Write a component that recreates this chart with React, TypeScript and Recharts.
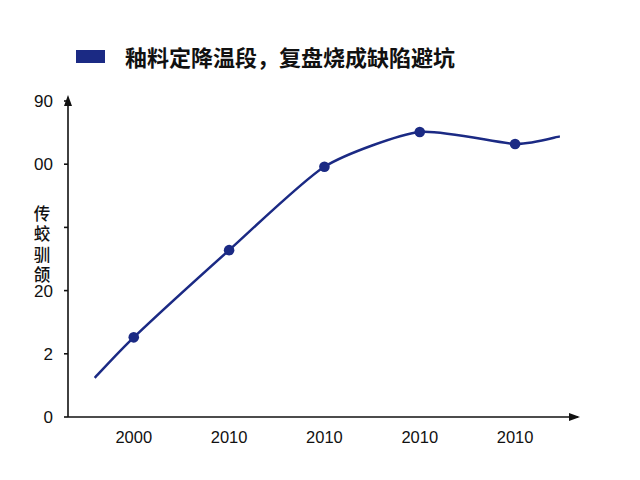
import React from "react";
import {
  LineChart,
  Line,
  XAxis,
  YAxis,
  ReferenceDot,
} from "recharts";

const seriesName = "釉料定降温段，复盘烧成缺陷避坑";
const yAxisTitle = "传蛟驯颌";

// x positions: real categories at 0..4, plus the line's lead-in / lead-out
const xPos = [-0.41, 0, 1, 2, 3, 4, 4.47];
const values = [0.62, 1.26, 2.64, 3.96, 4.51, 4.32, 4.44];
const marked = [false, true, true, true, true, true, false];

const xTicks = [0, 1, 2, 3, 4];
const xTickLabels = ["2000", "2010", "2010", "2010", "2010"];
const yTicks = [0, 1, 2, 3, 4, 5];
const yTickLabels = ["0", "2", "20", "", "00", "90"];

const X_MIN = -0.69;
const X_MAX = 4.66;
const Y_MAX = 5;

const NAVY = "#1b2a84";
const INK = "#111";

const data = xPos.map((x, i) => ({ x, value: values[i], mark: marked[i] }));

// cardinal spline, so the peak keeps a small corner like the source
function cardinal(tension: number) {
  return (context: any) => {
    let pts: [number, number][] = [];
    return {
      areaStart() {},
      areaEnd() {},
      lineStart() {
        pts = [];
      },
      point(x: number, y: number) {
        pts.push([+x, +y]);
      },
      lineEnd() {
        const k = (1 - tension) / 6;
        pts.forEach((p, i) => {
          if (i === 0) {
            context.moveTo(p[0], p[1]);
            return;
          }
          const p0 = pts[Math.max(0, i - 2)];
          const p1 = pts[i - 1];
          const p3 = pts[Math.min(pts.length - 1, i + 1)];
          context.bezierCurveTo(
            p1[0] + k * (p[0] - p0[0]),
            p1[1] + k * (p[1] - p0[1]),
            p[0] - k * (p3[0] - p1[0]),
            p[1] - k * (p3[1] - p1[1]),
            p[0],
            p[1]
          );
        });
      },
    };
  };
}

function Dot(props: any) {
  const { cx, cy, payload, index } = props;
  if (!payload.mark) return <g key={index} />;
  return <circle key={index} cx={cx} cy={cy} r={5.3} fill={NAVY} />;
}

function YTick(props: any) {
  const { x, y, payload } = props;
  return (
    <text
      x={x}
      y={y}
      dy={6}
      textAnchor="end"
      fontSize={17}
      fill={INK}
      fontFamily="Liberation Sans, Arial, sans-serif"
    >
      {yTickLabels[yTicks.indexOf(payload.value)]}
    </text>
  );
}

function YTitle(props: any) {
  const { viewBox } = props;
  const cx = viewBox.x + 34;
  const top = viewBox.y + viewBox.height / 2 - 54;
  return (
    <text
      x={cx}
      y={top}
      fontSize={16.5}
      fontWeight={500}
      fill={INK}
      fontFamily="Noto Sans CJK SC, sans-serif"
      style={{ writingMode: "vertical-rl", letterSpacing: 4 }}
    >
      {yAxisTitle}
    </text>
  );
}

function UpArrow(props: any) {
  const { cx, cy } = props;
  return <path d={`M${cx},${cy - 6} L${cx - 4},${cy + 5} L${cx + 4},${cy + 5} Z`} fill={INK} />;
}

function RightArrow(props: any) {
  const { cx, cy } = props;
  return <path d={`M${cx + 2},${cy} L${cx - 9},${cy - 4} L${cx - 9},${cy + 4} Z`} fill={INK} />;
}

export default function App() {
  return (
    <div style={{ position: "absolute", left: 0, top: 0, width: 640, height: 480, background: "#fff" }}>
      <div
        style={{
          position: "absolute",
          left: 76,
          top: 40,
          display: "flex",
          alignItems: "center",
          height: 32,
          fontFamily: "Noto Sans CJK SC, sans-serif",
          fontWeight: 700,
          fontSize: 22,
          color: INK,
        }}
      >
        <span style={{ display: "inline-block", width: 29, height: 13, background: NAVY, marginRight: 20 }} />
        <span>{seriesName}</span>
      </div>
      <LineChart
        width={640}
        height={480}
        data={data}
        margin={{ top: 101, right: 62, bottom: 23, left: 8 }}
      >
        <XAxis
          type="number"
          dataKey="x"
          domain={[X_MIN, X_MAX]}
          ticks={xTicks}
          tickFormatter={(v: number) => xTickLabels[xTicks.indexOf(v)]}
          height={40}
          tickSize={0}
          tickMargin={14}
          stroke={INK}
          strokeWidth={1.6}
          tick={{ fill: INK, fontSize: 16.5, fontFamily: "Liberation Sans, Arial, sans-serif" }}
          allowDataOverflow
        />
        <YAxis
          type="number"
          domain={[0, Y_MAX]}
          ticks={yTicks}
          width={60}
          tickSize={4}
          tickMargin={11}
          stroke={INK}
          strokeWidth={1.6}
          tick={<YTick />}
          label={<YTitle />}
        />
        <ReferenceDot x={X_MIN} y={Y_MAX} ifOverflow="visible" shape={<UpArrow />} />
        <ReferenceDot x={X_MAX} y={0} ifOverflow="visible" shape={<RightArrow />} />
        <Line
          type={cardinal(0.35) as any}
          dataKey="value"
          name={seriesName}
          stroke={NAVY}
          strokeWidth={2.5}
          dot={<Dot />}
          activeDot={false}
          isAnimationActive={false}
        />
      </LineChart>
    </div>
  );
}
